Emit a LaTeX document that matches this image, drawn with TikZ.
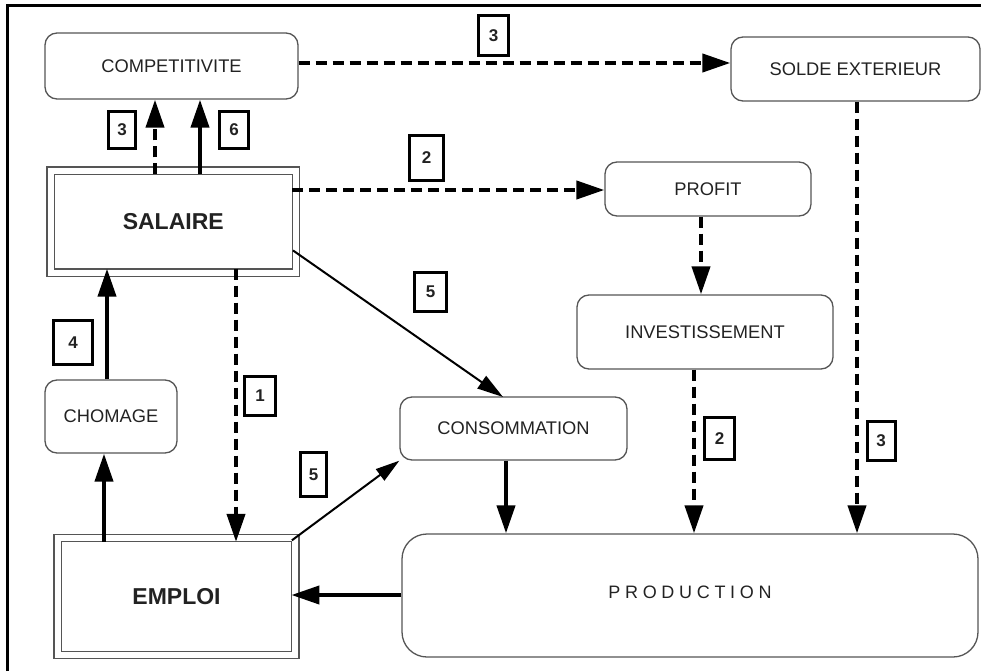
\documentclass[tikz,border=0pt]{standalone}
\usepackage{fontspec}
\setmainfont{Liberation Sans}
\usetikzlibrary{arrows.meta,calc}
\definecolor{boxgray}{HTML}{555555}
\definecolor{txt}{HTML}{222222}
\tikzset{
  rbox/.style={draw=boxgray, line width=1.3pt, rounded corners=12pt, inner sep=0pt,
    font=\fontsize{18.3}{21}\selectfont, text=txt},
  dbox/.style={draw=boxgray, line width=1.3pt, double, double distance=6pt, inner sep=0pt,
    font=\fontsize{23}{26}\selectfont\bfseries, text=txt},
  lab/.style={draw=black, line width=3pt, inner sep=0pt,
    font=\fontsize{17}{19}\selectfont\bfseries, text=txt},
  bigtip/.style={-{Triangle[length=28pt,width=18pt]}},
  solidarr/.style={bigtip, line width=4pt},
  dasharr/.style={bigtip, line width=4pt, dash pattern=on 11pt off 6pt},
  thinarr/.style={-{Triangle[length=26pt,width=15pt]}, line width=2pt},
  smallarr/.style={-{Triangle[length=24pt,width=14pt]}, line width=2pt},
  frameline/.style={line width=3pt}
}
\begin{document}
\begin{tikzpicture}[x=1pt,y=-1pt]
\useasboundingbox (0,0) rectangle (981,671);
% frame
\coordinate (fA) at (7,671);
\coordinate (fB) at (7,6);
\coordinate (fC) at (981,6);
\draw[frameline] (fA) -- (fB) -- (fC);

% nodes
\node[rbox, minimum width=253, minimum height=66] (comp) at (171.5,66) {COMPETITIVITE};
\node[rbox, minimum width=249, minimum height=64] (solde) at (855.5,69) {SOLDE EXTERIEUR};
\node[dbox, minimum width=245.5, minimum height=102] (sal) at (173.25,221.5) {SALAIRE};
\node[rbox, minimum width=206, minimum height=54] (profit) at (708,189) {PROFIT};
\node[rbox, minimum width=256, minimum height=74] (invest) at (705,332) {INVESTISSEMENT};
\node[rbox, minimum width=132, minimum height=73] (chom) at (111,416.5) {CHOMAGE};
\node[rbox, minimum width=227, minimum height=63] (cons) at (513.5,428.5) {CONSOMMATION};
\node[dbox, minimum width=237.5, minimum height=117] (emp) at (176.5,596.5) {EMPLOI};
\node[rbox, rounded corners=25pt, minimum width=576, minimum height=123,
  font=\fontsize{18}{21}\selectfont] (prod) at (690,595.5)
  {\raisebox{6pt}{P\kern4.7pt R\kern4.7pt O\kern4.7pt D\kern4.7pt U\kern4.7pt C\kern4.7pt T\kern4.7pt I\kern4.7pt O\kern4.7pt N}};

% labels
\node[lab, minimum width=30, minimum height=40] (l3a) at (493.5,35.5) {3};
\node[lab, minimum width=27, minimum height=37] (l3b) at (122,130) {3};
\node[lab, minimum width=29, minimum height=37] (l6) at (234,130) {6};
\node[lab, minimum width=34, minimum height=45] (l2a) at (426.5,158) {2};
\node[lab, minimum width=32, minimum height=39] (l5a) at (430.5,292) {5};
\node[lab, minimum width=39, minimum height=44] (l4) at (73,342.5) {4};
\node[lab, minimum width=31, minimum height=39] (l1) at (260,396) {1};
\node[lab, minimum width=26, minimum height=44] (l5b) at (313.5,474.5) {5};
\node[lab, minimum width=30, minimum height=42] (l2b) at (719.5,438.5) {2};
\node[lab, minimum width=28, minimum height=39] (l3c) at (881,441) {3};

% reference coordinates for connector lines
\coordinate (xa) at (155,0);
\coordinate (xb) at (200,0);
\coordinate (xc) at (107,0);
\coordinate (xd) at (104,0);
\coordinate (xe) at (236,0);
\coordinate (xf) at (506,0);
\coordinate (xg) at (694,0);
\coordinate (xh) at (701,0);
\coordinate (xi) at (857,0);
\coordinate (ya) at (0,63);
\coordinate (yb) at (0,190);
\coordinate (yc) at (0,253);
\coordinate (yd) at (0,595);
\coordinate (consin) at (503,397);

% connectors
\draw[dasharr] (comp.east |- ya) -- (solde.west |- ya);
\draw[dasharr, shorten <=-4.5pt] (xa |- sal.north) -- (xa |- comp.south);
\draw[solidarr, shorten <=-4.5pt] (xb |- sal.north) -- (xb |- comp.south);
\draw[dasharr, shorten <=-4.5pt] (sal.east |- yb) -- (profit.west |- yb);
\draw[thinarr, shorten <=-4.5pt] (sal.east |- yc) -- (consin);
\draw[solidarr, shorten >=-4.5pt] (xc |- chom.north) -- (xc |- sal.south);
\draw[solidarr, shorten <=-4.5pt] (xd |- emp.north) -- (xd |- chom.south);
\draw[dasharr, shorten <=-4.5pt, shorten >=-4.5pt] (xe |- sal.south) -- (xe |- emp.north);
\draw[smallarr, shorten <=-5pt] (emp.north east) -- (cons.south west);
\draw[solidarr] (xf |- cons.south) -- (xf |- prod.north);
\draw[dasharr] (xh |- profit.south) -- (xh |- invest.north);
\draw[dasharr] (xg |- invest.south) -- (xg |- prod.north);
\draw[dasharr] (xi |- solde.south) -- (xi |- prod.north);
\draw[solidarr, shorten >=-4.5pt] (prod.west |- yd) -- (emp.east |- yd);
\end{tikzpicture}
\end{document}
